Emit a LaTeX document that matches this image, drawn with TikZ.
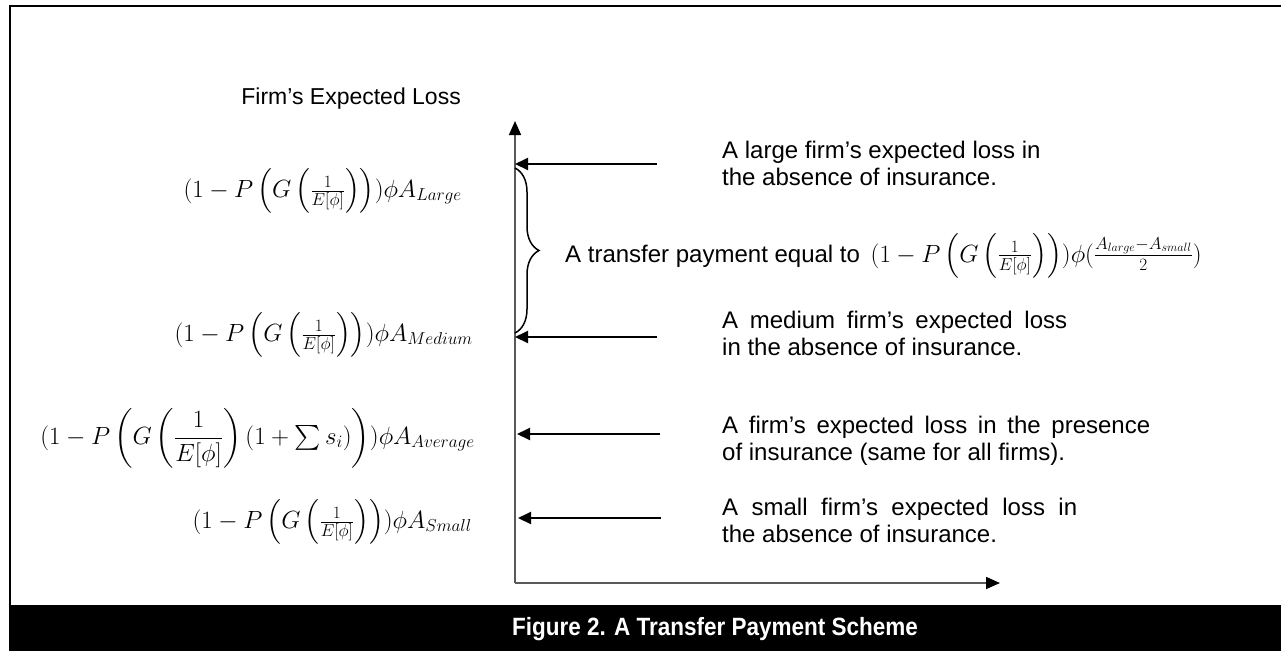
\documentclass[tikz,border=0pt]{standalone}
\usepackage{amsmath}
\usepackage{fontspec}
\setmainfont{Liberation Sans}
\newfontfamily\capfont[FakeStretch=0.9]{Liberation Sans}
\usetikzlibrary{arrows.meta,decorations.pathreplacing}

\tikzset{
  note/.style={anchor=base west, align=left, inner sep=0pt, font=\fontsize{24}{27}\selectfont},
  loss/.style={anchor=east, inner sep=0pt, font=\fontsize{25.5}{30}\selectfont},
  pointer/.style={line width=2pt, -{Triangle[length=13pt,width=12pt]}},
  axis/.style={line width=1.5pt, draw=black!65, -{Triangle[length=14pt,width=12pt,color=black]}},
  caption/.style={text=white, inner sep=0pt, font=\capfont\bfseries\fontsize{25}{29}\selectfont}
}

\begin{document}
\begin{tikzpicture}[x=1pt,y=-1pt]
  \useasboundingbox (0,0) rectangle (1281,651);

  % frame and caption bar
  \draw[line width=2pt] (10,605) -- (10,6) -- (1281,6);
  \fill (9,605) rectangle (1281,651);
  \node[caption] (cap) at (715,629) {Figure 2. A Transfer Payment Scheme};

  % axes
  \coordinate (origin) at (515,583);
  \coordinate (ytop) at (515,121);
  \coordinate (xend) at (1000,583);
  \draw[axis] (origin) -- (ytop);
  \draw[axis] (origin) -- (xend);
  \node[anchor=base east, inner sep=0pt, font=\fontsize{23}{27}\selectfont] (ylabel) at (461,104) {Firm’s Expected Loss};

  % expected losses on the vertical axis
  \node[loss] (lossL) at (462,191)
    {$(1-P\left(G\left(\tfrac{1}{E[\phi]}\right)\right))\phi A_{Large}$};
  \node[loss] (lossM) at (473,335)
    {$(1-P\left(G\left(\tfrac{1}{E[\phi]}\right)\right))\phi A_{Medium}$};
  \node[loss, font=\fontsize{23}{27}\selectfont] (lossA) at (475,438)
    {$(1-P\left(G\left(\dfrac{1}{E[\phi]}\right)(1+\textstyle\sum s_i)\right))\phi A_{Average}$};
  \node[loss] (lossS) at (472,522)
    {$(1-P\left(G\left(\tfrac{1}{E[\phi]}\right)\right))\phi A_{Small}$};

  % pointers from the notes
  \coordinate (startL) at (657,164);
  \coordinate (startM) at (657,337);
  \coordinate (startA) at (660,434);
  \coordinate (startS) at (661,518);
  \draw[pointer] (startL) -- (startL -| ytop);
  \draw[pointer] (startM) -- (startM -| ytop);
  \draw[pointer] (startA) -- ([xshift=2pt]startA -| ytop);
  \draw[pointer] (startS) -- ([xshift=3pt]startS -| ytop);

  \node[note] (noteL) at (722,185) {A large firm’s expected loss in\\the absence of insurance.};
  \node[note] (noteM) at (722,355) {\makebox[345pt][s]{A medium firm’s expected loss}\\in the absence of insurance.};
  \node[note] (noteA) at (722,460) {\makebox[428pt][s]{A firm’s expected loss in the presence}\\of insurance (same for all firms).};
  \node[note] (noteS) at (722,542) {\makebox[355pt][s]{A small firm’s expected loss in}\\the absence of insurance.};

  % transfer between large and medium
  \draw[decorate, decoration={brace, amplitude=24pt}, line width=1.5pt] (515,168) -- (515,333);
  \node[note] (transfer) at (565,262)
    {A transfer payment equal to\, $(1-P\left(G\left(\tfrac{1}{E[\phi]}\right)\right))\phi(\frac{A_{large}-A_{small}}{2})$};
\end{tikzpicture}
\end{document}
